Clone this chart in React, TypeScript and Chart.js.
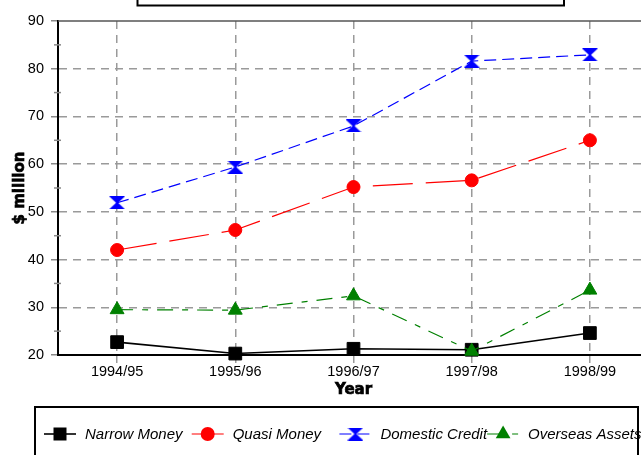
import React, { useEffect, useRef } from 'react';
import { Chart, registerables } from 'chart.js';

Chart.register(...registerables);

// ---- data ----
const years = ['1994/95', '1995/96', '1996/97', '1997/98', '1998/99'];
const narrowMoney = [22.7, 20.3, 21.3, 21.1, 24.6];
const quasiMoney = [42.0, 46.2, 55.2, 56.6, 65.0];
const domesticCredit = [51.9, 59.4, 68.0, 81.6, 82.9];
const overseasAssets = [29.5, 29.4, 32.4, 20.8, 33.6];
const seriesNames = ['Narrow Money', 'Quasi Money', 'Domestic Credit', 'Overseas Assets'];
const yMin = 20;
const yMax = 90;
const yMajorStep = 10;
const yMinorStep = 5;
const xTitle = 'Year';
const yTitle = '$ million';

const CANVAS_W = 660;
const CANVAS_H = 470;

function makeHourglass(color: string, w: number, h: number) {
  const c = document.createElement('canvas');
  c.width = w;
  c.height = h;
  const g = c.getContext('2d')!;
  g.fillStyle = color;
  g.beginPath();
  g.moveTo(0, 0);
  g.lineTo(w, 0);
  g.lineTo(w / 2 + 1, h / 2);
  g.lineTo(w, h);
  g.lineTo(0, h);
  g.lineTo(w / 2 - 1, h / 2);
  g.closePath();
  g.fill();
  return c;
}

function drawMarker(ctx: CanvasRenderingContext2D, kind: string, x: number, y: number, color: string, img?: HTMLCanvasElement) {
  ctx.save();
  ctx.fillStyle = color;
  ctx.beginPath();
  if (kind === 'rect') {
    ctx.rect(x - 6.5, y - 6.5, 13, 13);
    ctx.fill();
  } else if (kind === 'circle') {
    ctx.arc(x, y, 7, 0, Math.PI * 2);
    ctx.fill();
  } else if (kind === 'triangle') {
    const r = 8.5;
    ctx.moveTo(x, y - r);
    ctx.lineTo(x + Math.sin((2 * Math.PI) / 3) * r, y + 0.5 * r);
    ctx.lineTo(x - Math.sin((2 * Math.PI) / 3) * r, y + 0.5 * r);
    ctx.closePath();
    ctx.fill();
  } else if (kind === 'image' && img) {
    ctx.drawImage(img, x - img.width / 2, y - img.height / 2);
  }
  ctx.restore();
}

export default function App() {
  const ref = useRef<HTMLCanvasElement | null>(null);

  useEffect(() => {
    if (!ref.current) return;
    const hourglass = makeHourglass('#0000ff', 16, 13);
    const legendKinds = ['rect', 'circle', 'image', 'triangle'];

    const heavyText = (ctx: CanvasRenderingContext2D, text: string, x: number, y: number, rot: number) => {
      ctx.save();
      ctx.translate(x, y);
      ctx.rotate(rot);
      ctx.font = 'bold 15px "DejaVu Sans", sans-serif';
      ctx.fillStyle = '#000';
      ctx.strokeStyle = '#000';
      ctx.lineWidth = 0.7;
      ctx.textAlign = 'center';
      ctx.textBaseline = 'middle';
      ctx.fillText(text, 0, 0);
      ctx.strokeText(text, 0, 0);
      ctx.restore();
    };

    const decor = {
      id: 'decor',
      beforeDatasetsDraw(chart: any) {
        const { ctx, chartArea, scales } = chart;
        ctx.save();
        ctx.strokeStyle = '#555';
        ctx.lineWidth = 1.5;
        ctx.beginPath();
        ctx.moveTo(chartArea.left, chartArea.top);
        ctx.lineTo(chartArea.right, chartArea.top);
        ctx.stroke();
        ctx.strokeStyle = '#888';
        ctx.lineWidth = 1.5;
        for (let v = yMin; v <= yMax; v += yMinorStep) {
          if (v % yMajorStep === 0) continue;
          const y = scales.y.getPixelForValue(v);
          ctx.beginPath();
          ctx.moveTo(chartArea.left - 4, y);
          ctx.lineTo(chartArea.left + 3, y);
          ctx.stroke();
        }
        ctx.restore();
      },
      afterDraw(chart: any) {
        const { ctx, chartArea } = chart;
        // axis titles
        heavyText(ctx, yTitle, 20, (chartArea.top + chartArea.bottom) / 2, -Math.PI / 2);
        heavyText(ctx, xTitle, (chartArea.left + chartArea.right) / 2, 390, 0);
        ctx.save();
        // title box (cropped at top)
        ctx.strokeStyle = '#000';
        ctx.lineWidth = 2;
        ctx.strokeRect(137.5, -20, 426.5, 25.5);
        // legend box
        ctx.strokeRect(35, 407, 603, 80);
        chart.data.datasets.forEach((ds: any, i: number) => {
          const lx = 44 + i * 147.7;
          const ly = 434;
          ctx.save();
          ctx.strokeStyle = ds.borderColor;
          ctx.lineWidth = ds.borderWidth;
          ctx.setLineDash(ds.borderDash || []);
          ctx.beginPath();
          ctx.moveTo(lx, ly);
          ctx.lineTo(lx + 32, ly);
          ctx.stroke();
          ctx.restore();
          drawMarker(ctx, legendKinds[i], lx + 16, ly, ds.borderColor, hourglass);
          ctx.save();
          ctx.font = 'italic 15px "Liberation Sans", Arial, sans-serif';
          ctx.fillStyle = '#000';
          ctx.textBaseline = 'alphabetic';
          ctx.fillText(ds.label, lx + 41, 439);
          ctx.restore();
        });
        ctx.restore();
      },
    };

    const tickFont = { family: '"Liberation Sans", Arial, sans-serif', size: 14.5 };

    const chart = new Chart(ref.current, {
      type: 'line',
      data: {
        labels: years,
        datasets: [
          {
            label: seriesNames[0],
            data: narrowMoney,
            borderColor: '#000000',
            backgroundColor: '#000000',
            borderWidth: 1.6,
            pointStyle: 'rect',
            pointRadius: 9,
            pointBackgroundColor: '#000000',
            pointBorderColor: '#000000',
            pointBorderWidth: 1,
            order: 4,
            clip: false,
          },
          {
            label: seriesNames[1],
            data: quasiMoney,
            borderColor: '#ff0000',
            backgroundColor: '#ff0000',
            borderWidth: 1.2,
            borderDash: [40, 13],
            pointStyle: 'circle',
            pointRadius: 6.5,
            pointBackgroundColor: '#ff0000',
            pointBorderColor: '#ff0000',
            pointBorderWidth: 1,
            order: 3,
            clip: false,
          },
          {
            label: seriesNames[2],
            data: domesticCredit,
            borderColor: '#0000ff',
            backgroundColor: '#0000ff',
            borderWidth: 1.2,
            borderDash: [12, 6],
            pointStyle: hourglass,
            pointRadius: 8,
            order: 2,
            clip: false,
          },
          {
            label: seriesNames[3],
            data: overseasAssets,
            borderColor: '#008000',
            backgroundColor: '#008000',
            borderWidth: 1.2,
            borderDash: [16, 9, 6, 9],
            pointStyle: 'triangle',
            pointRadius: 8,
            pointBackgroundColor: '#008000',
            pointBorderColor: '#008000',
            pointBorderWidth: 1,
            order: 1,
            clip: false,
          },
        ] as any,
      },
      options: {
        responsive: false,
        animation: false,
        events: [],
        layout: { padding: { top: 21, left: 0, right: 11, bottom: 0 } },
        plugins: {
          legend: { display: false },
          tooltip: { enabled: false },
          title: { display: false },
        },
        scales: {
          x: {
            type: 'category',
            offset: true,
            afterFit: (s: any) => {
              s.height = 115;
            },
            grid: {
              offset: false,
              color: '#9a9a9a',
              lineWidth: 1.5,
              tickLength: 8,
              tickColor: '#9a9a9a',
              tickWidth: 1.5,
            },
            border: { display: true, color: '#000', width: 2, dash: [8, 6] },
            ticks: { padding: 0, color: '#000', font: tickFont, maxRotation: 0, autoSkip: false },
            title: { display: false },
          },
          y: {
            min: yMin,
            max: yMax,
            afterFit: (s: any) => {
              s.width = 58;
            },
            ticks: {
              stepSize: yMinorStep,
              autoSkip: false,
              padding: 7,
              color: '#000',
              font: tickFont,
              callback: (v: any) => (Number(v) % yMajorStep === 0 ? String(v) : ''),
            },
            grid: {
              color: (c: any) =>
                c.tick && c.tick.value % yMajorStep === 0 && c.tick.value !== yMax && c.tick.value !== yMin
                  ? '#9a9a9a'
                  : 'rgba(0,0,0,0)',
              lineWidth: 1.5,
              tickLength: 7,
              tickColor: (c: any) => (c.tick && c.tick.value % yMajorStep === 0 ? '#888' : 'rgba(0,0,0,0)'),
              tickWidth: 1.5,
            },
            border: { display: true, color: '#000', width: 2, dash: [8, 6] },
            title: { display: false },
          },
        },
      } as any,
      plugins: [decor],
    });
    return () => chart.destroy();
  }, []);

  return (
    <div
      style={{
        position: 'fixed',
        left: 0,
        top: 0,
        width: 641,
        height: 455,
        overflow: 'hidden',
        background: '#fff',
      }}
    >
      <canvas
        ref={ref}
        width={CANVAS_W}
        height={CANVAS_H}
        style={{ display: 'block', width: CANVAS_W, height: CANVAS_H }}
      />
    </div>
  );
}
